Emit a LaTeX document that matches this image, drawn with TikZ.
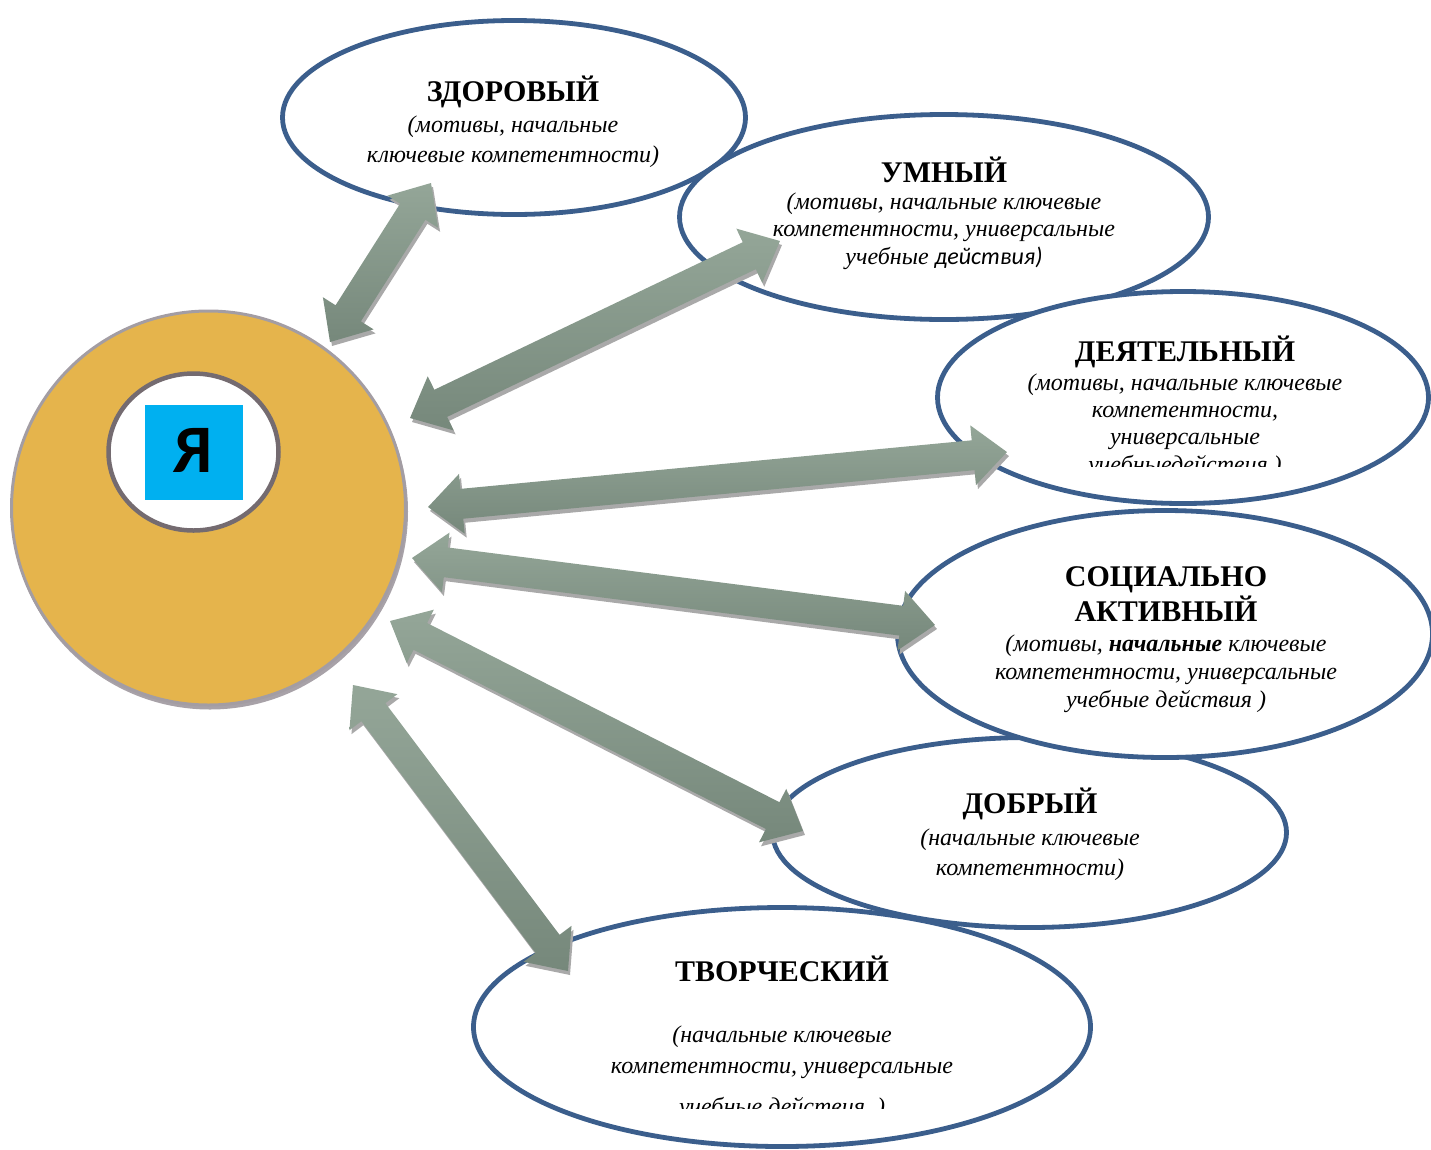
\documentclass[tikz,border=0pt]{standalone}
\usepackage{fontspec}
\setmainfont{Liberation Serif}
\newfontfamily\calfont{Carlito}
\usetikzlibrary{shapes.geometric,calc}

\definecolor{eblue}{HTML}{3B5E8C}
\definecolor{gold}{HTML}{E5B44C}
\definecolor{cring}{HTML}{A39DA3}
\definecolor{cshadow}{HTML}{A8A2A8}
\definecolor{iring}{HTML}{746B70}
\definecolor{sqblue}{HTML}{00B0F0}
\definecolor{arrlight}{HTML}{94A698}
\definecolor{arrdark}{HTML}{76887B}
\definecolor{arrshadow}{HTML}{A9A9A9}

\tikzset{
  oval/.style={ellipse, draw=eblue, line width=4.8pt, fill=white, inner sep=0pt},
  ttl/.style={font=\fontsize{30}{34}\selectfont\bfseries, anchor=base, inner sep=0pt},
  sub/.style={font=\fontsize{24}{28}\selectfont\itshape, anchor=base, inner sep=0pt},
}

\newcommand\arrpoly{(0,0) -- (34,30) -- (34,15) -- (\arrlen-34,15) -- (\arrlen-34,30) -- (\arrlen,0) -- (\arrlen-34,-30) -- (\arrlen-34,-15) -- (34,-15) -- (34,-30) -- cycle}
\newcommand\dblarrow[2]{%
  \path let \p1=(#1), \p2=(#2) in \pgfextra{%
    \pgfmathsetmacro\tmpang{atan2(\y2-\y1,\x2-\x1)}%
    \pgfmathsetmacro\tmplen{veclen(\x2-\x1,\y2-\y1)}%
    \xdef\arrang{\tmpang}\xdef\arrlen{\tmplen}};
  \begin{scope}[shift={(#1)}, xshift=2pt, yshift=-4pt, rotate=\arrang, x=1pt, y=1pt]
    \fill[arrshadow] \arrpoly;
  \end{scope}
  \begin{scope}[shift={(#1)}, rotate=\arrang, x=1pt, y=1pt]
    \shade[top color=arrlight, bottom color=arrdark] \arrpoly;
  \end{scope}}

\begin{document}
\begin{tikzpicture}[x=1pt, y=-1pt]
\useasboundingbox (0,0) rectangle (1431,1149);
\clip (0,0) rectangle (1431,1149);

% ovals
\node[oval, minimum width=463pt, minimum height=194pt] (zd) at (514,117.5) {};
\node[oval, minimum width=529pt, minimum height=205pt] (um) at (944,217) {};
\node[oval, minimum width=617pt, minimum height=239pt] (tv) at (782,1027) {};
\node[oval, minimum width=514pt, minimum height=190pt] (do) at (1029.5,832.5) {};
\node[oval, minimum width=535pt, minimum height=247pt] (so) at (1165,634) {};
\node[oval, minimum width=491pt, minimum height=212pt] (de) at (1183,397.5) {};

% texts
\node[ttl] (zdT) at (513,101) {ЗДОРОВЫЙ};
\node[sub] (zd1) at (513,132) {(мотивы, начальные};
\node[sub] (zd2) at (513,162) {ключевые компетентности)};

\node[ttl] (umT) at (944,182) {УМНЫЙ};
\node[sub] (um1) at (944,209) {(мотивы, начальные ключевые};
\node[sub] (um2) at (944,236) {компетентности, универсальные};
\node[sub] (um3) at (944,264) {учебные {\calfont\itshape действия)}};

\node[ttl] (deT) at (1185,361) {ДЕЯТЕЛЬНЫЙ};
\node[sub] (de1) at (1185,390) {(мотивы, начальные ключевые};
\node[sub] (de2) at (1185,417) {компетентности,};
\node[sub] (de3) at (1185,444) {универсальные};
\begin{scope}
  \clip (935,440) rectangle (1431,466);
  \node[sub] (de4) at (1185,472) {учебныедействия )};
\end{scope}

\node[ttl] (soT1) at (1166,586) {СОЦИАЛЬНО};
\node[ttl] (soT2) at (1166,621) {АКТИВНЫЙ};
\node[sub] (so1) at (1166,651) {(мотивы, \textbf{начальные} ключевые};
\node[sub] (so2) at (1166,679) {компетентности, универсальные};
\node[sub] (so3) at (1166,707) {учебные действия )};

\node[ttl] (doT) at (1030,813) {ДОБРЫЙ};
\node[sub] (do1) at (1030,845) {(начальные ключевые};
\node[sub] (do2) at (1030,875) {компетентности)};

\node[ttl] (tvT) at (782,981) {ТВОРЧЕСКИЙ};
\node[sub] (tv1) at (782,1042) {(начальные ключевые};
\node[sub] (tv2) at (782,1073) {компетентности, универсальные};
\begin{scope}
  \clip (471,1080) rectangle (1093,1108);
  \node[sub] (tv3) at (782,1114) {учебные действия\ \ )};
\end{scope}

% central circle
\fill[cshadow] (210,511.5) circle (198);
\node[circle, fill=gold, draw=cring, line width=3pt, minimum size=394pt, inner sep=0pt] (me) at (208.5,508) {};
\node[ellipse, fill=white, draw=iring, line width=4.5pt, minimum width=170pt, minimum height=157pt, inner sep=0pt] (inner) at (193.5,452) {};
\node[fill=sqblue, minimum width=98pt, minimum height=95pt, inner sep=0pt] (sq) at (194,452.5) {};
\node[font=\calfont\bfseries\fontsize{68}{70}\selectfont, anchor=base, inner sep=0pt] (ya) at (193,472) {Я};

% arrow end points
\coordinate (a1s) at (330,342);  \coordinate (a1e) at (431,183);
\coordinate (a2s) at (410,418);  \coordinate (a2e) at (780,241);
\coordinate (a3s) at (428,507);  \coordinate (a3e) at (1007,452);
\coordinate (a4s) at (412,558);  \coordinate (a4e) at (935,625);
\coordinate (a5s) at (390,621);  \coordinate (a5e) at (803,831);
\coordinate (a6s) at (353,685);  \coordinate (a6e) at (568,971);

\dblarrow{a1s}{a1e}
\dblarrow{a2s}{a2e}
\dblarrow{a3s}{a3e}
\dblarrow{a4s}{a4e}
\dblarrow{a5s}{a5e}
\dblarrow{a6s}{a6e}
\end{tikzpicture}
\end{document}
